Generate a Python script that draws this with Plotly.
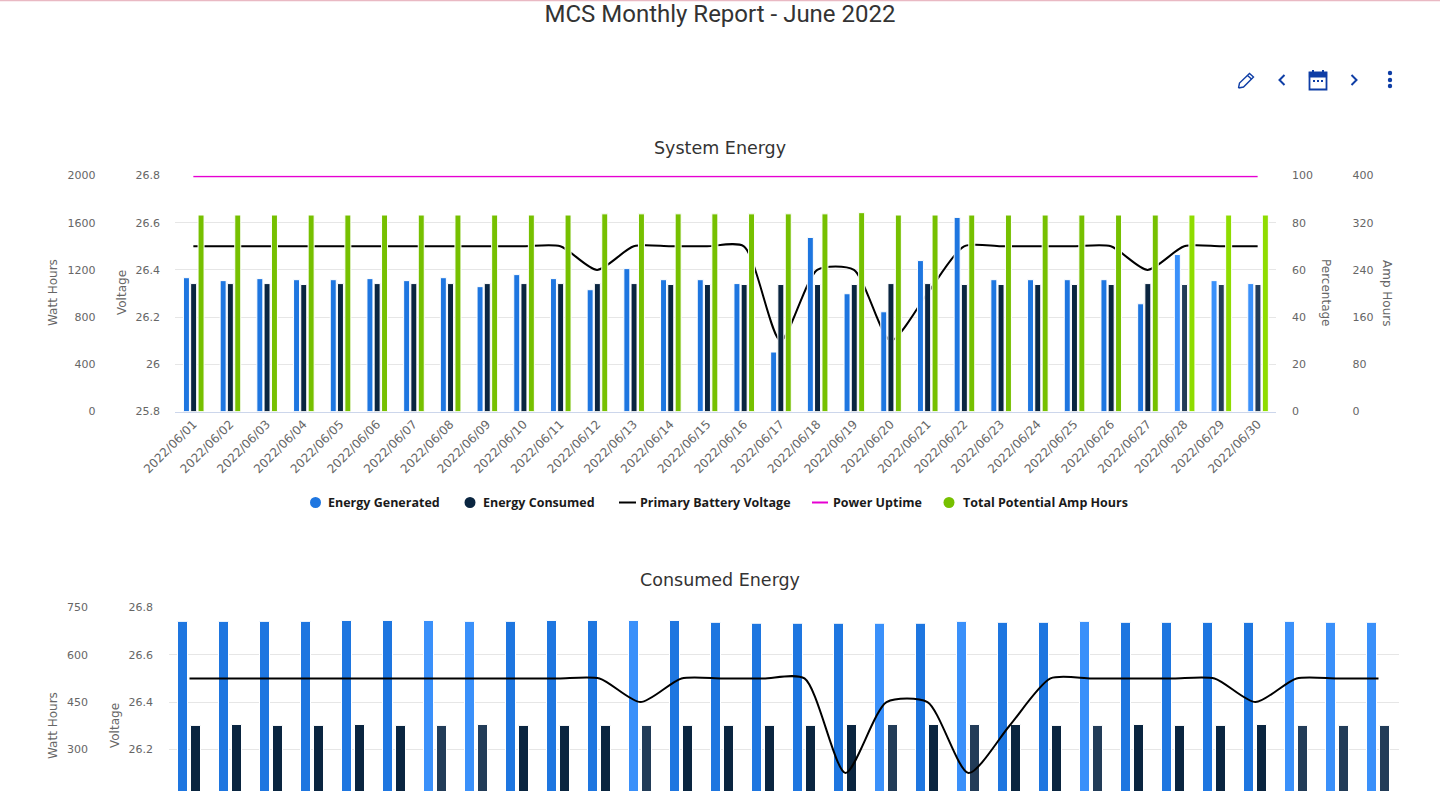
import plotly.graph_objects as go

W, H = 1440, 791

DATES = [f"2022/06/{d:02d}" for d in range(1, 31)]

SYS_GENERATED = [1134, 1109, 1126, 1117, 1117, 1126, 1109, 1134, 1058, 1160,
                 1126, 1032, 1211, 1117, 1117, 1084, 504, 1475, 998, 845,
                 1279, 1645, 1117, 1117, 1117, 1117, 913, 1330, 1109, 1084]
SYS_CONSUMED = [1084, 1084, 1084, 1076, 1084, 1084, 1084, 1084, 1084, 1084,
                1084, 1084, 1084, 1076, 1076, 1076, 1076, 1076, 1076, 1084,
                1084, 1076, 1076, 1076, 1076, 1076, 1084, 1076, 1076, 1076]
SYS_VOLTAGE = [26.5, 26.5, 26.5, 26.5, 26.5, 26.5, 26.5, 26.5, 26.5, 26.5,
               26.5, 26.4, 26.5, 26.5, 26.5, 26.5, 26.1, 26.4, 26.4, 26.1,
               26.3, 26.5, 26.5, 26.5, 26.5, 26.5, 26.4, 26.5, 26.5, 26.5]
SYS_UPTIME = [99.6] * 30
SYS_AMP_HOURS = [333, 333, 333, 333, 333, 333, 333, 333, 333, 333,
                 333, 335, 335, 335, 335, 335, 335, 335, 337, 333,
                 333, 333, 333, 333, 333, 333, 333, 333, 333, 333]
SYS_LIGHT = [27, 28, 29]

CON_GENERATED = [706, 706, 706, 706, 709, 709, 709, 706, 706, 709,
                 709, 709, 709, 703, 700, 700, 700, 700, 700, 706,
                 703, 703, 706, 703, 703, 703, 703, 706, 703, 703]
CON_CONSUMED = [376, 379, 376, 376, 379, 376, 376, 379, 376, 376,
                376, 376, 376, 376, 376, 376, 379, 379, 379, 379,
                379, 376, 376, 379, 376, 376, 379, 376, 376, 376]
CON_VOLTAGE = [26.5, 26.5, 26.5, 26.5, 26.5, 26.5, 26.5, 26.5, 26.5, 26.5,
               26.5, 26.4, 26.5, 26.5, 26.5, 26.5, 26.1, 26.4, 26.4, 26.1,
               26.3, 26.5, 26.5, 26.5, 26.5, 26.5, 26.4, 26.5, 26.5, 26.5]
CON_LIGHT_GEN = [6, 7, 11, 17, 19, 22, 27, 28, 29]
CON_LIGHT_CON = [6, 7, 11, 17, 19, 22, 27, 28, 29]

BLUE, BLUE_L = "#1e76e0", "#3a90fa"
NAVY, NAVY_L = "#0a2540", "#223c58"
GREEN, GREEN_L = "#76c000", "#8fdc00"
INK = "#666666"
GRID = "#e6e6e6"
TICK_FONT = dict(family="DejaVu Sans", size=11, color=INK)


def fx(x):
    return x / W


def fy(y):
    return 1 - y / H


def colored(base, light, idx):
    return [light if i in idx else base for i in range(30)]


X1 = (175, 1276)
X2 = (169, 1399)
CAT1 = (X1[1] - X1[0]) / 30
CAT2 = (X2[1] - X2[0]) / 30
DOM1 = [fy(411.5), fy(175.5)]
DOM2 = [0, fy(607.5)]


def bar(x_ax, y_ax, y, colors, start_px, width_px, cat, name):
    return go.Bar(x=DATES, y=y, xaxis=x_ax, yaxis=y_ax, name=name,
                  width=width_px / cat, offset=start_px / cat,
                  marker=dict(color=colors, line=dict(color="white", width=1)),
                  showlegend=False)


fig = go.Figure()
# System Energy: the lines sit on the lowest axes so that the bars cover them
fig.add_trace(go.Scatter(x=DATES, y=SYS_VOLTAGE, xaxis="x", yaxis="y", mode="lines",
                         name="Primary Battery Voltage", showlegend=False,
                         line=dict(color="#000000", width=2, shape="spline", smoothing=0.7)))
fig.add_trace(go.Scatter(x=DATES, y=SYS_UPTIME, xaxis="x", yaxis="y2", mode="lines",
                         name="Power Uptime", showlegend=False,
                         line=dict(color="#e600d2", width=1.6), cliponaxis=False))
fig.add_trace(bar("x", "y3", SYS_GENERATED, colored(BLUE, BLUE_L, SYS_LIGHT), -9.9, 6, CAT1, "Energy Generated"))
fig.add_trace(bar("x", "y3", SYS_CONSUMED, colored(NAVY, NAVY_L, SYS_LIGHT), -2.7, 6, CAT1, "Energy Consumed"))
fig.add_trace(bar("x", "y4", SYS_AMP_HOURS, colored(GREEN, GREEN_L, SYS_LIGHT), 4.7, 6, CAT1, "Total Potential Amp Hours"))
# Consumed Energy
fig.add_trace(bar("x2", "y5", CON_GENERATED, colored(BLUE, BLUE_L, CON_LIGHT_GEN), -12, 10, CAT2, "Energy Generated"))
fig.add_trace(bar("x2", "y5", CON_CONSUMED, colored(NAVY, NAVY_L, CON_LIGHT_CON), 1, 10, CAT2, "Energy Consumed"))
fig.add_trace(go.Scatter(x=DATES, y=CON_VOLTAGE, xaxis="x2", yaxis="y6", mode="lines",
                         name="Primary Battery Voltage", showlegend=False,
                         line=dict(color="#000000", width=2, shape="spline", smoothing=0.7)))


def yaxis(rng, dtick, tick0, pos, side="left", grid=False, overlay=None, domain=DOM1):
    d = dict(range=rng, dtick=dtick, tick0=tick0, domain=domain, anchor="free", position=fx(pos),
             side=side, showgrid=grid, gridcolor=GRID, gridwidth=1, zeroline=False, automargin=False,
             showline=False, ticks="", tickfont=TICK_FONT, fixedrange=True)
    if overlay:
        d["overlaying"] = overlay
    return d


annotations = []


def text(x, y, s, size=12, color=INK, anchor="center", angle=0, bold=False, family="DejaVu Sans"):
    annotations.append(dict(x=fx(x), y=fy(y), xref="paper", yref="paper", text=f"<b>{s}</b>" if bold else s,
                            showarrow=False, xanchor=anchor, yanchor="middle", textangle=angle,
                            font=dict(family=family, size=size, color=color)))


text(720, 147.5, "System Energy", size=17.5, color="#333333")
text(720, 579.5, "Consumed Energy", size=17.5, color="#333333")
text(53, 293, "Watt Hours", angle=-90)
text(122, 293, "Voltage", angle=-90)
text(1326, 293, "Percentage", angle=90)
text(1387, 293, "Amp Hours", angle=90)
text(53, 726, "Watt Hours", angle=-90)
text(115, 725, "Voltage", angle=-90)
for x, s in [(326, "Energy Generated"), (481, "Energy Consumed"), (638, "Primary Battery Voltage"),
             (831, "Power Uptime"), (961, "Total Potential Amp Hours")]:
    text(x, 502.5, s, size=12.5, color="#1a1a1a", anchor="left", bold=True, family="Open Sans")

shapes = []


def path(points, close=False):
    return "M" + "L".join(f"{fx(x)},{fy(y)}" for x, y in points) + ("Z" if close else "")


def circle(cx, cy, r, color):
    shapes.append(dict(type="circle", xref="paper", yref="paper", x0=fx(cx - r), x1=fx(cx + r),
                       y0=fy(cy + r), y1=fy(cy - r), fillcolor=color, line=dict(width=0)))


def seg(points, color, width, close=False, fill=None):
    shapes.append(dict(type="path", xref="paper", yref="paper", path=path(points, close),
                       line=dict(color=color, width=width), fillcolor=fill if fill else "rgba(0,0,0,0)"))


circle(315.5, 502.5, 5.5, BLUE)
circle(470, 502.5, 5.5, NAVY)
circle(949, 502.5, 5.5, GREEN)
seg([(619, 502.5), (636, 502.5)], "#000000", 2)
seg([(812, 502.5), (828, 502.5)], "#e600d2", 2)

seg([(0, 0.5), (1440, 0.5)], "#e9b9c3", 1.5)

ICON = "#0f3ea6"
seg([(1238.5, 88), (1239.5, 83), (1249.5, 73.5), (1253.5, 77), (1243.5, 87), (1238.5, 88)], ICON, 1.4)
seg([(1247.5, 75.5), (1251.5, 79)], ICON, 1.4)
seg([(1284.5, 75), (1279.5, 80), (1284.5, 85)], ICON, 2)
seg([(1351.5, 75), (1356.5, 80), (1351.5, 85)], ICON, 2)
seg([(1309.5, 72.5), (1326.5, 72.5), (1326.5, 89.5), (1309.5, 89.5)], ICON, 1.8, close=True)
seg([(1309.5, 72.5), (1326.5, 72.5), (1326.5, 77), (1309.5, 77)], ICON, 1.2, close=True, fill=ICON)
seg([(1313, 70), (1313, 73)], ICON, 2)
seg([(1323, 70), (1323, 73)], ICON, 2)
for x in (1314, 1318, 1322):
    seg([(x - 1, 80), (x + 1, 80), (x + 1, 82), (x - 1, 82)], ICON, 0, close=True, fill=ICON)
for y in (73, 80, 86):
    circle(1390, y, 2.2, ICON)

fig.update_layout(
    width=W, height=H, margin=dict(l=0, r=0, t=0, b=0, pad=0, autoexpand=False), autosize=False,
    paper_bgcolor="white", plot_bgcolor="white",
    title=dict(text="MCS Monthly Report - June 2022", x=0.5, xanchor="center", xref="paper",
               y=fy(14), yanchor="middle", yref="paper", font=dict(family="Roboto", size=24, color="#333333")),
    barmode="overlay",
    xaxis=dict(domain=[fx(X1[0]), fx(X1[1])], range=[-0.5, 29.5], type="category", anchor="y", automargin=False,
               categoryorder="array", categoryarray=DATES, tickangle=-45, showgrid=False, showline=True,
               linecolor="#ccd6eb", linewidth=1, ticks="", tickfont=dict(family="DejaVu Sans", size=12, color=INK),
               tickmode="array", tickvals=DATES, ticktext=DATES, fixedrange=True),
    xaxis2=dict(domain=[fx(X2[0]), fx(X2[1])], range=[-0.5, 29.5], type="category", anchor="y5", automargin=False,
                categoryorder="array", categoryarray=DATES, showgrid=False, showline=False, showticklabels=False,
                ticks="", fixedrange=True),
    yaxis=yaxis([25.8, 26.8], 0.2, 25.8, 160, grid=True),
    yaxis2=yaxis([0, 100], 20, 0, 1291, side="right", overlay="y"),
    yaxis3=yaxis([0, 2000], 400, 0, 95.5, overlay="y"),
    yaxis4=yaxis([0, 400], 80, 0, 1351.5, side="right", overlay="y"),
    yaxis5=yaxis([168, 750], 150, 0, 88, grid=True, domain=DOM2),
    yaxis6=yaxis([26.024, 26.8], 0.2, 25.8, 153, overlay="y5", domain=DOM2),
    annotations=annotations, shapes=shapes, showlegend=False, hovermode=False,
)

fig.write_html("out.html", config=dict(displayModeBar=False),
               post_script="document.body.style.margin='0';document.body.style.overflow='hidden';")
